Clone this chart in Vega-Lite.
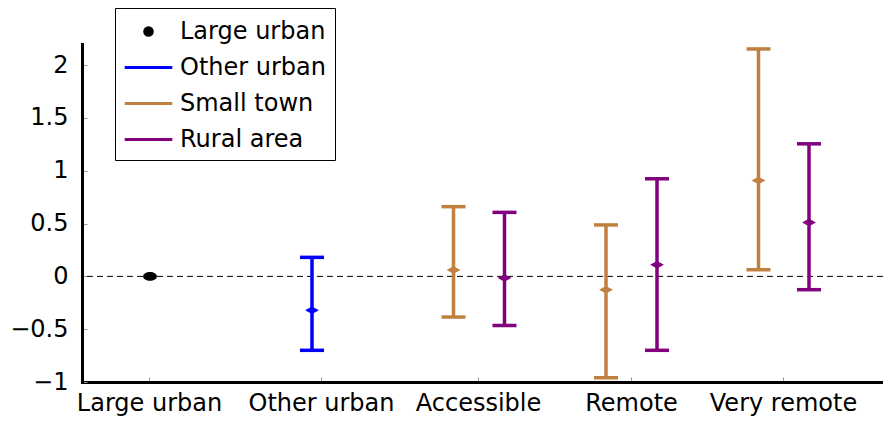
{
  "$schema": "https://vega.github.io/schema/vega-lite/v6.json",
  "width": 801,
  "height": 338,
  "autosize": {"type": "none"},
  "padding": {"left": 82, "top": 44, "right": 0, "bottom": 45},
  "background": "white",
  "config": {
    "view": {"stroke": null},
    "font": "DejaVu Sans",
    "axis": {
      "domainColor": "black",
      "domainWidth": 3,
      "domainCap": "square",
      "tickColor": "#999999",
      "tickWidth": 1,
      "tickSize": -5,
      "labelFont": "DejaVu Sans",
      "labelFontSize": 24,
      "labelColor": "black",
      "labelFlush": false,
      "labelOverlap": false,
      "labelLimit": 400,
      "grid": false
    }
  },
  "datasets": {
    "est": [
      {"group": "Large urban", "region": "Large urban", "x": 0.68, "mean": 0, "lo": null, "hi": null},
      {"group": "Other urban", "region": "Other urban", "x": 2.30, "mean": -0.32, "lo": -0.70, "hi": 0.18},
      {"group": "Small town", "region": "Accessible", "x": 3.715, "mean": 0.06, "lo": -0.385, "hi": 0.66},
      {"group": "Rural area", "region": "Accessible", "x": 4.225, "mean": -0.015, "lo": -0.465, "hi": 0.606},
      {"group": "Small town", "region": "Remote", "x": 5.24, "mean": -0.126, "lo": -0.96, "hi": 0.487},
      {"group": "Rural area", "region": "Remote", "x": 5.75, "mean": 0.11, "lo": -0.70, "hi": 0.924},
      {"group": "Small town", "region": "Very remote", "x": 6.765, "mean": 0.908, "lo": 0.063, "hi": 2.153},
      {"group": "Rural area", "region": "Very remote", "x": 7.27, "mean": 0.51, "lo": -0.126, "hi": 1.255}
    ],
    "zero": [{"value": 0}]
  },
  "layer": [
    {
      "data": {"name": "zero"},
      "mark": {"type": "rule", "color": "black", "strokeWidth": 1, "strokeDash": [6, 4]},
      "encoding": {
        "y": {
          "field": "value", "type": "quantitative",
          "scale": {"domain": [-1, 2.2], "nice": false, "zero": false},
          "axis": {
            "title": null,
            "values": [-1, -0.5, 0, 0.5, 1, 1.5, 2],
            "labelExpr": "replace(format(datum.value, '~g'), '-', '\u2212')",
            "labelPadding": 19
          }
        }
      }
    },
    {
      "data": {"name": "est"},
      "transform": [{"filter": "datum.lo != null"}],
      "mark": {"type": "rule", "strokeWidth": 3.5},
      "encoding": {
        "x": {
          "field": "x", "type": "quantitative",
          "scale": {"domain": [0, 8.01], "nice": false, "zero": false},
          "axis": {
            "title": null,
            "values": [0.67, 2.39, 3.96, 5.49, 7.01],
            "labelExpr": "datum.value < 1 ? 'Large urban' : datum.value < 3 ? 'Other urban' : datum.value < 4.5 ? 'Accessible' : datum.value < 6 ? 'Remote' : 'Very remote'",
            "labelPadding": 14
          }
        },
        "y": {"field": "lo", "type": "quantitative", "scale": {"domain": [-1, 2.2], "nice": false, "zero": false}},
        "y2": {"field": "hi"},
        "color": {
          "field": "group", "type": "nominal",
          "scale": {
            "domain": ["Large urban", "Other urban", "Small town", "Rural area"],
            "range": ["#000000", "#0000ff", "#bf8040", "#800080"]
          },
          "legend": {
            "title": null,
            "orient": "none",
            "legendX": 33,
            "legendY": -36,
            "padding": 8,
            "strokeColor": "black",
            "fillColor": "white",
            "cornerRadius": 0,
            "labelFont": "DejaVu Sans",
            "labelFontSize": 24,
            "labelColor": "black",
            "labelLimit": 400,
            "labelOffset": 16,
            "symbolOffset": 10,
            "rowPadding": 8,
            "symbolSize": 784,
            "symbolStrokeWidth": 3,
            "encode": {
              "symbols": {
                "update": {
                  "shape": {"signal": "datum.value === 'Large urban' ? 'M -0.27,0 A 0.27,0.27 0 1,0 0.27,0 A 0.27,0.27 0 1,0 -0.27,0 Z' : 'M -1.7,0 L 1.7,0'"},
                  "fill": {"signal": "datum.value === 'Large urban' ? 'black' : 'transparent'"},
                  "stroke": {"scale": "color", "field": "value"},
                  "strokeWidth": {"value": 3},
                  "size": {"value": 784},
                  "opacity": {"value": 1}
                }
              }
            }
          }
        }
      }
    },
    {
      "data": {"name": "est"},
      "transform": [{"filter": "datum.lo != null"}],
      "mark": {"type": "tick", "orient": "horizontal", "size": 24, "thickness": 3.5, "opacity": 1},
      "encoding": {
        "x": {"field": "x", "type": "quantitative"},
        "y": {"field": "lo", "type": "quantitative"},
        "color": {"field": "group", "type": "nominal"}
      }
    },
    {
      "data": {"name": "est"},
      "transform": [{"filter": "datum.lo != null"}],
      "mark": {"type": "tick", "orient": "horizontal", "size": 24, "thickness": 3.5, "opacity": 1},
      "encoding": {
        "x": {"field": "x", "type": "quantitative"},
        "y": {"field": "hi", "type": "quantitative"},
        "color": {"field": "group", "type": "nominal"}
      }
    },
    {
      "data": {"name": "est"},
      "transform": [{"filter": "datum.lo != null"}],
      "mark": {"type": "point", "filled": true, "size": 190, "opacity": 1, "shape": "M -1,0 L 0,-0.55 L 1,0 L 0,0.55 Z"},
      "encoding": {
        "x": {"field": "x", "type": "quantitative"},
        "y": {"field": "mean", "type": "quantitative"},
        "color": {"field": "group", "type": "nominal"}
      }
    },
    {
      "data": {"name": "est"},
      "transform": [{"filter": "datum.lo == null"}],
      "mark": {"type": "point", "filled": true, "size": 190, "opacity": 1, "shape": "M -1,0 A 1,0.62 0 1,0 1,0 A 1,0.62 0 1,0 -1,0 Z"},
      "encoding": {
        "x": {"field": "x", "type": "quantitative"},
        "y": {"field": "mean", "type": "quantitative"},
        "color": {"field": "group", "type": "nominal"}
      }
    }
  ]
}
